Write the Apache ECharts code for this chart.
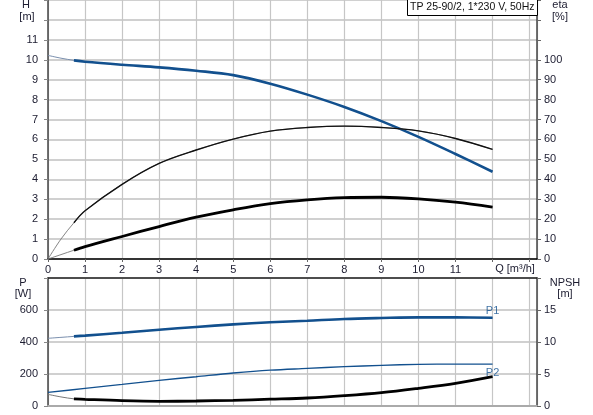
<!DOCTYPE html>
<html>
<head>
<meta charset="utf-8">
<script src="https://cdn.jsdelivr.net/npm/echarts@6/dist/echarts.min.js"></script>
<style>
html,body{margin:0;padding:0;background:#fff;}
#chart{width:593px;height:415px;}
</style>
</head>
<body>
<div id="chart"></div>
<script>
// ---- data ----
const titleText = 'TP 25-90/2, 1*230 V, 50Hz';
const qStart = [0, 0.35, 0.7];
const qMain = [0.7, 1, 2, 3, 4, 5, 6, 7, 8, 9, 10, 11, 12];
const qAll = [0, 1, 2, 3, 4, 5, 6, 7, 8, 9, 10, 11, 12];

const headStart = [10.22, 10.08, 9.97];
const headMain = [9.97, 9.9, 9.75, 9.62, 9.45, 9.23, 8.8, 8.25, 7.63, 6.92, 6.13, 5.27, 4.38];

const etaPumpStart = [0, 10, 18.2];
const etaPumpMain = [18.2, 24.2, 37.5, 48, 54.7, 60.2, 64.2, 66, 66.7, 66, 64.3, 60.5, 55];

const etaTotalStart = [0, 2.2, 4.4];
const etaTotalMain = [4.4, 6.2, 11.3, 16.3, 21, 24.7, 27.8, 29.7, 30.8, 31, 30.2, 28.5, 26];

const p1Start = [423, 429, 435];
const p1Main = [435, 440, 458, 477, 494, 510, 523, 533, 544, 550, 554, 554, 552];

const p2All = [85, 110, 135, 160, 183, 206, 224, 235, 246, 254, 260, 262, 262];

const npshStart = [1.82, 1.42, 1.12];
const npshMain = [1.12, 1.04, 0.83, 0.73, 0.78, 0.89, 1.06, 1.25, 1.61, 2.08, 2.76, 3.54, 4.58];

const qLabelMax = 11, hLabelMax = 11, etaLabelMax = 100, pLabelMax = 600, npshLabelMax = 15;

// ---- helpers ----
const zip = (xs, ys) => xs.map((x, i) => [x, ys[i]]);
// full curve (thin start + rest) so the thin part joins the thick part smoothly
const full = (xs0, ys0, xs1, ys1) => zip(xs0.concat(xs1.slice(1)), ys0.concat(ys1.slice(1)));
const FONT = 'Liberation Sans, Arial, sans-serif';
const TXT = '#1c1c30';
const BLUE = '#12508e';
const lbl = (max) => ({
  fontFamily: FONT, fontSize: 11, color: TXT,
  formatter: v => (v <= max ? String(v) : '')
});

const chart = echarts.init(document.getElementById('chart'), null, {renderer: 'canvas'});

const gridLineX = {show: true, lineStyle: {color: '#c6c6c6', width: 1.2}};
const gridLineY = {show: true, lineStyle: {color: '#d0d0d0', width: 2}};

const lineSeries = (xi, yi, data, color, width) => ({
  type: 'line', xAxisIndex: xi, yAxisIndex: yi, data: data,
  smooth: 0.35, showSymbol: false, silent: true,
  lineStyle: {color: color, width: width}
});

const option = {
  animation: false,
  backgroundColor: '#fff',
  grid: [
    {left: 48, right: 56, top: -1, height: 260},
    {left: 48, right: 56, top: 278, height: 128}
  ],
  xAxis: [
    {
      gridIndex: 0, type: 'value', min: 0, max: 13.2, interval: 1,
      axisLine: {show: true, onZero: false, lineStyle: {color: '#000', width: 1.5}},
      axisTick: {show: true, length: 3, lineStyle: {color: '#666'}},
      axisLabel: Object.assign(lbl(qLabelMax), {margin: 5, showMaxLabel: false}),
      splitLine: gridLineX
    },
    {
      gridIndex: 1, type: 'value', min: 0, max: 13.2, interval: 1,
      axisLine: {show: true, onZero: false, lineStyle: {color: '#aaa', width: 2}},
      axisTick: {show: false},
      axisLabel: {show: false},
      splitLine: gridLineX
    },
    {
      gridIndex: 1, type: 'value', position: 'top', min: 0, max: 13.2,
      axisLine: {show: true, onZero: false, lineStyle: {color: '#222', width: 1.5}},
      axisTick: {show: false}, axisLabel: {show: false}, splitLine: {show: false}
    }
  ],
  yAxis: [
    {
      gridIndex: 0, type: 'value', min: 0, max: 13, interval: 1,
      axisLine: {show: true, onZero: false, lineStyle: {color: '#444', width: 1.5}},
      axisTick: {show: true, length: 4, lineStyle: {color: '#888'}},
      axisLabel: Object.assign(lbl(hLabelMax), {margin: 10}),
      splitLine: gridLineY
    },
    {
      gridIndex: 0, type: 'value', position: 'right', min: 0, max: 130, interval: 10,
      axisLine: {show: true, onZero: false, lineStyle: {color: '#444', width: 1.5}},
      axisTick: {show: true, length: 4, lineStyle: {color: '#666'}},
      axisLabel: Object.assign(lbl(etaLabelMax), {margin: 7}),
      splitLine: {show: false}
    },
    {
      gridIndex: 1, type: 'value', min: 0, max: 800, interval: 200,
      axisLine: {show: true, onZero: false, lineStyle: {color: '#444', width: 1.5}},
      axisTick: {show: true, length: 4, lineStyle: {color: '#888'}},
      axisLabel: Object.assign(lbl(pLabelMax), {margin: 10}),
      splitLine: gridLineY
    },
    {
      gridIndex: 1, type: 'value', position: 'right', min: 0, max: 20, interval: 5,
      axisLine: {show: true, onZero: false, lineStyle: {color: '#444', width: 1.5}},
      axisTick: {show: true, length: 4, lineStyle: {color: '#666'}},
      axisLabel: Object.assign(lbl(npshLabelMax), {margin: 7}),
      splitLine: {show: false}
    }
  ],
  series: [
    lineSeries(0, 0, full(qStart, headStart, qMain, headMain), '#7a8fae', 1),
    lineSeries(0, 0, zip(qMain, headMain), BLUE, 2.6),
    lineSeries(0, 1, full(qStart, etaPumpStart, qMain, etaPumpMain), '#777', 0.9),
    lineSeries(0, 1, zip(qMain, etaPumpMain), '#111', 1.4),
    lineSeries(0, 1, full(qStart, etaTotalStart, qMain, etaTotalMain), '#777', 0.9),
    lineSeries(0, 1, zip(qMain, etaTotalMain), '#000', 2.8),
    lineSeries(1, 2, full(qStart, p1Start, qMain, p1Main), '#7a8fae', 1),
    lineSeries(1, 2, zip(qMain, p1Main), BLUE, 2.6),
    lineSeries(1, 2, zip(qAll, p2All), BLUE, 1.4),
    lineSeries(1, 3, full(qStart, npshStart, qMain, npshMain), '#777', 1),
    lineSeries(1, 3, zip(qMain, npshMain), '#000', 2.8),
    // curve labels
    {type: 'scatter', xAxisIndex: 1, yAxisIndex: 2, symbolSize: 1, silent: true,
      itemStyle: {color: 'transparent'},
      data: [[qMain[qMain.length - 1], p1Main[p1Main.length - 1]]],
      label: {show: true, position: 'top', distance: 1, formatter: 'P1',
        fontFamily: FONT, fontSize: 11, color: BLUE}},
    {type: 'scatter', xAxisIndex: 1, yAxisIndex: 2, symbolSize: 1, silent: true,
      itemStyle: {color: 'transparent'},
      data: [[qAll[qAll.length - 1], p2All[p2All.length - 1]]],
      label: {show: true, position: 'bottom', distance: 3, formatter: 'P2',
        fontFamily: FONT, fontSize: 11, color: BLUE}}
  ],
  graphic: [
    {type: 'rect', left: 407, top: -1, shape: {width: 130, height: 16}, z: 100,
      style: {fill: '#fff', stroke: '#000', lineWidth: 1}},
    {type: 'text', x: 410, y: 7, z: 101,
      style: {text: titleText, font: '10.5px ' + FONT, fill: '#111', verticalAlign: 'middle'}},
    {type: 'text', x: 26, y: 5, z: 101, style: {text: 'H', font: '11px ' + FONT, fill: TXT, align: 'center', verticalAlign: 'middle'}},
    {type: 'text', x: 27, y: 17, z: 101, style: {text: '[m]', font: '11px ' + FONT, fill: TXT, align: 'center', verticalAlign: 'middle'}},
    {type: 'text', x: 560, y: 5, z: 101, style: {text: 'eta', font: '11px ' + FONT, fill: TXT, align: 'center', verticalAlign: 'middle'}},
    {type: 'text', x: 560, y: 17, z: 101, style: {text: '[%]', font: '11px ' + FONT, fill: TXT, align: 'center', verticalAlign: 'middle'}},
    {type: 'text', x: 515, y: 269, z: 101, style: {text: 'Q [m³/h]', font: '11px ' + FONT, fill: TXT, align: 'center', verticalAlign: 'middle'}},
    {type: 'text', x: 23, y: 283, z: 101, style: {text: 'P', font: '11px ' + FONT, fill: TXT, align: 'center', verticalAlign: 'middle'}},
    {type: 'text', x: 23, y: 294, z: 101, style: {text: '[W]', font: '11px ' + FONT, fill: TXT, align: 'center', verticalAlign: 'middle'}},
    {type: 'text', x: 565, y: 283, z: 101, style: {text: 'NPSH', font: '11px ' + FONT, fill: TXT, align: 'center', verticalAlign: 'middle'}},
    {type: 'text', x: 565, y: 294, z: 101, style: {text: '[m]', font: '11px ' + FONT, fill: TXT, align: 'center', verticalAlign: 'middle'}}
  ]
};
chart.setOption(option);
</script>
</body>
</html>
